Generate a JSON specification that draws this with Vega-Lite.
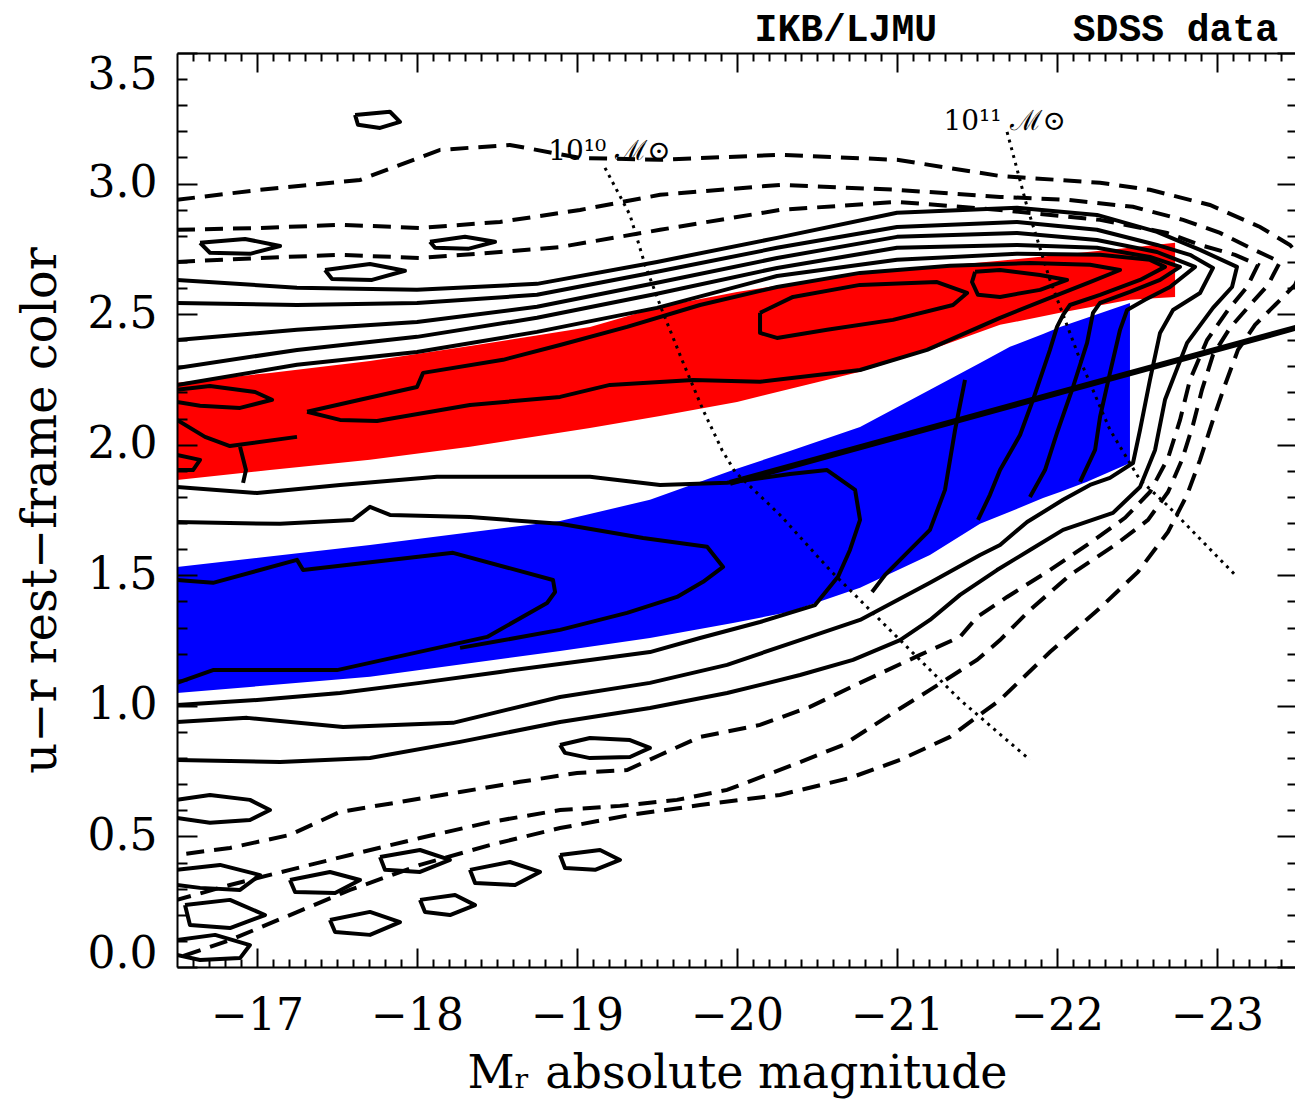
{
  "$schema": "https://vega.github.io/schema/vega-lite/v6.json",
  "width": 1120,
  "height": 914,
  "autosize": {"type": "none"},
  "padding": {"left": 177, "top": 53, "right": 0, "bottom": 134},
  "background": "white",
  "config": {"view": {"stroke": null}},
  "datasets": {
    "red": [
      {"M":-16.5,"c":2.237,"c2":1.865},{"M":-17.081,"c":2.275,"c2":1.903},{"M":-17.706,"c":2.321,"c2":1.942},{"M":-18.331,"c":2.378,"c2":1.992},{"M":-19.081,"c":2.451,"c2":2.064},{"M":-19.519,"c":2.528,"c2":2.110},{"M":-20.0,"c":2.585,"c2":2.164},{"M":-20.769,"c":2.658,"c2":2.279},{"M":-21.206,"c":2.681,"c2":2.363},{"M":-21.644,"c":2.704,"c2":2.459},{"M":-22.019,"c":2.727,"c2":2.505},{"M":-22.456,"c":2.754,"c2":2.555},{"M":-22.738,"c":2.773,"c2":2.566}
    ],
    "blue": [
      {"M":-16.5,"c":1.532,"c2":1.049},{"M":-17.706,"c":1.616,"c2":1.111},{"M":-18.894,"c":1.708,"c2":1.210},{"M":-19.456,"c":1.789,"c2":1.260},{"M":-19.975,"c":1.903,"c2":1.317},{"M":-20.331,"c":1.976,"c2":1.360},{"M":-20.769,"c":2.068,"c2":1.452},{"M":-21.206,"c":2.210,"c2":1.578},{"M":-21.519,"c":2.313,"c2":1.697},{"M":-21.706,"c":2.375,"c2":1.743},{"M":-21.913,"c":2.424,"c2":1.796},{"M":-22.019,"c":2.451,"c2":1.819},{"M":-22.188,"c":2.486,"c2":1.858},{"M":-22.456,"c":2.543,"c2":1.930}
    ],
    "sol": [
      {"id":"a","M":-16.5,"c":2.631},{"id":"a","M":-17.25,"c":2.601},{"id":"a","M":-18.0,"c":2.593},{"id":"a","M":-18.75,"c":2.616},{"id":"a","M":-19.5,"c":2.700},{"id":"a","M":-20.25,"c":2.792},{"id":"a","M":-21.0,"c":2.888},{"id":"a","M":-21.75,"c":2.907},{"id":"a","M":-22.25,"c":2.880},{"id":"a","M":-22.625,"c":2.815},{"id":"a","M":-22.894,"c":2.746},{"id":"a","M":-23.125,"c":2.681},{"id":"a","M":-23.094,"c":2.604},{"id":"a","M":-22.975,"c":2.524},{"id":"a","M":-22.813,"c":2.390},{"id":"a","M":-22.675,"c":2.172},{"id":"a","M":-22.613,"c":1.980},{"id":"a","M":-22.519,"c":1.838},{"id":"a","M":-22.35,"c":1.739},{"id":"a","M":-22.038,"c":1.674},{"id":"a","M":-21.831,"c":1.597},{"id":"a","M":-21.625,"c":1.520},{"id":"a","M":-21.394,"c":1.425},{"id":"a","M":-21.206,"c":1.329},{"id":"a","M":-21.019,"c":1.252},{"id":"a","M":-20.725,"c":1.176},{"id":"a","M":-20.394,"c":1.118},{"id":"a","M":-19.938,"c":1.049},{"id":"a","M":-19.456,"c":0.992},{"id":"a","M":-18.894,"c":0.938},{"id":"a","M":-18.269,"c":0.862},{"id":"a","M":-17.706,"c":0.800},{"id":"a","M":-17.144,"c":0.785},{"id":"a","M":-16.5,"c":0.793},
      {"id":"b","M":-16.5,"c":2.543},{"id":"b","M":-17.25,"c":2.535},{"id":"b","M":-18.0,"c":2.543},{"id":"b","M":-18.75,"c":2.574},{"id":"b","M":-19.5,"c":2.662},{"id":"b","M":-20.25,"c":2.754},{"id":"b","M":-21.0,"c":2.834},{"id":"b","M":-21.75,"c":2.853},{"id":"b","M":-22.25,"c":2.823},{"id":"b","M":-22.625,"c":2.765},{"id":"b","M":-22.831,"c":2.727},{"id":"b","M":-22.975,"c":2.677},{"id":"b","M":-22.894,"c":2.581},{"id":"b","M":-22.725,"c":2.516},{"id":"b","M":-22.644,"c":2.428},{"id":"b","M":-22.581,"c":2.248},{"id":"b","M":-22.519,"c":2.057},{"id":"b","M":-22.475,"c":1.930},{"id":"b","M":-22.331,"c":1.873},{"id":"b","M":-22.206,"c":1.846},{"id":"b","M":-22.038,"c":1.789},{"id":"b","M":-21.813,"c":1.704},{"id":"b","M":-21.644,"c":1.616},{"id":"b","M":-21.519,"c":1.578},{"id":"b","M":-21.206,"c":1.471},{"id":"b","M":-20.769,"c":1.329},{"id":"b","M":-20.394,"c":1.252},{"id":"b","M":-19.938,"c":1.157},{"id":"b","M":-19.456,"c":1.088},{"id":"b","M":-18.894,"c":1.034},{"id":"b","M":-18.225,"c":0.935},{"id":"b","M":-17.538,"c":0.919},{"id":"b","M":-16.938,"c":0.954},{"id":"b","M":-16.5,"c":0.938},
      {"id":"c","M":-16.5,"c":2.401},{"id":"c","M":-17.25,"c":2.440},{"id":"c","M":-18.0,"c":2.470},{"id":"c","M":-18.75,"c":2.528},{"id":"c","M":-19.5,"c":2.620},{"id":"c","M":-20.25,"c":2.715},{"id":"c","M":-21.0,"c":2.796},{"id":"c","M":-21.75,"c":2.811},{"id":"c","M":-22.25,"c":2.784},{"id":"c","M":-22.625,"c":2.738},{"id":"c","M":-22.863,"c":2.681},{"id":"c","M":-22.706,"c":2.604},{"id":"c","M":-22.55,"c":2.555},{"id":"c","M":-22.438,"c":2.516},{"id":"c","M":-22.394,"c":2.440},{"id":"c","M":-22.331,"c":2.275},{"id":"c","M":-22.269,"c":2.106},{"id":"c","M":-22.238,"c":1.980},{"id":"c","M":-22.144,"c":1.858},
      {"id":"d","M":-16.5,"c":2.294},{"id":"d","M":-17.25,"c":2.363},{"id":"d","M":-18.0,"c":2.413},{"id":"d","M":-18.75,"c":2.486},{"id":"d","M":-19.5,"c":2.578},{"id":"d","M":-20.25,"c":2.677},{"id":"d","M":-21.0,"c":2.754},{"id":"d","M":-21.75,"c":2.765},{"id":"d","M":-22.25,"c":2.754},{"id":"d","M":-22.581,"c":2.719},{"id":"d","M":-22.769,"c":2.681},{"id":"d","M":-22.644,"c":2.631},{"id":"d","M":-22.456,"c":2.585},{"id":"d","M":-22.269,"c":2.543},{"id":"d","M":-22.225,"c":2.505},{"id":"d","M":-22.188,"c":2.390},{"id":"d","M":-22.1,"c":2.221},{"id":"d","M":-22.0,"c":2.045},{"id":"d","M":-21.925,"c":1.903},{"id":"d","M":-21.831,"c":1.800},
      {"id":"e","M":-16.5,"c":2.229},{"id":"e","M":-17.25,"c":2.306},{"id":"e","M":-18.0,"c":2.355},{"id":"e","M":-18.75,"c":2.432},{"id":"e","M":-19.5,"c":2.524},{"id":"e","M":-20.25,"c":2.646},{"id":"e","M":-21.0,"c":2.708},{"id":"e","M":-21.75,"c":2.731},{"id":"e","M":-22.269,"c":2.727},{"id":"e","M":-22.581,"c":2.708},{"id":"e","M":-22.675,"c":2.681},{"id":"e","M":-22.519,"c":2.631},{"id":"e","M":-22.269,"c":2.574},{"id":"e","M":-22.081,"c":2.535},{"id":"e","M":-22.038,"c":2.497},{"id":"e","M":-22.0,"c":2.451},{"id":"e","M":-21.956,"c":2.363},{"id":"e","M":-21.85,"c":2.172},{"id":"e","M":-21.769,"c":2.037},{"id":"e","M":-21.644,"c":1.903},{"id":"e","M":-21.581,"c":1.808},{"id":"e","M":-21.506,"c":1.712},
      {"id":"f","M":-17.313,"c":2.126},{"id":"f","M":-17.644,"c":2.172},{"id":"f","M":-18.0,"c":2.221},{"id":"f","M":-18.038,"c":2.275},{"id":"f","M":-18.538,"c":2.325},{"id":"f","M":-18.894,"c":2.382},{"id":"f","M":-19.313,"c":2.451},{"id":"f","M":-19.769,"c":2.535},{"id":"f","M":-20.25,"c":2.604},{"id":"f","M":-20.769,"c":2.658},{"id":"f","M":-21.331,"c":2.685},{"id":"f","M":-21.831,"c":2.696},{"id":"f","M":-22.206,"c":2.689},{"id":"f","M":-22.394,"c":2.669},{"id":"f","M":-22.206,"c":2.623},{"id":"f","M":-21.956,"c":2.562},{"id":"f","M":-21.644,"c":2.486},{"id":"f","M":-21.188,"c":2.363},{"id":"f","M":-20.769,"c":2.286},{"id":"f","M":-20.144,"c":2.241},{"id":"f","M":-19.725,"c":2.248},{"id":"f","M":-19.206,"c":2.229},{"id":"f","M":-18.894,"c":2.183},{"id":"f","M":-18.331,"c":2.152},{"id":"f","M":-17.75,"c":2.091},{"id":"f","M":-17.519,"c":2.095},{"id":"f","M":-17.313,"c":2.126},
      {"id":"g","M":-21.488,"c":2.662},{"id":"g","M":-21.644,"c":2.669},{"id":"g","M":-21.894,"c":2.650},{"id":"g","M":-22.063,"c":2.631},{"id":"g","M":-21.894,"c":2.593},{"id":"g","M":-21.644,"c":2.566},{"id":"g","M":-21.506,"c":2.574},{"id":"g","M":-21.469,"c":2.623},{"id":"g","M":-21.488,"c":2.662},
      {"id":"h","M":-20.144,"c":2.505},{"id":"h","M":-20.35,"c":2.566},{"id":"h","M":-20.769,"c":2.612},{"id":"h","M":-21.25,"c":2.623},{"id":"h","M":-21.438,"c":2.581},{"id":"h","M":-21.35,"c":2.535},{"id":"h","M":-20.975,"c":2.478},{"id":"h","M":-20.563,"c":2.440},{"id":"h","M":-20.25,"c":2.409},{"id":"h","M":-20.144,"c":2.428},{"id":"h","M":-20.144,"c":2.505},
      {"id":"i","M":-16.5,"c":2.210},{"id":"i","M":-16.706,"c":2.225},{"id":"i","M":-16.988,"c":2.202},{"id":"i","M":-17.094,"c":2.172},{"id":"i","M":-16.894,"c":2.141},{"id":"i","M":-16.644,"c":2.149},{"id":"i","M":-16.5,"c":2.164},
      {"id":"j","M":-16.5,"c":2.095},{"id":"j","M":-16.675,"c":2.030},{"id":"j","M":-16.831,"c":1.995},{"id":"j","M":-17.25,"c":2.030},
      {"id":"k","M":-16.894,"c":1.992},{"id":"k","M":-16.931,"c":1.903},{"id":"k","M":-16.913,"c":1.854},
      {"id":"l","M":-16.5,"c":1.961},{"id":"l","M":-16.644,"c":1.942},{"id":"l","M":-16.6,"c":1.903},{"id":"l","M":-16.5,"c":1.903},
      {"id":"m","M":-16.5,"c":1.838},{"id":"m","M":-17.0,"c":1.815},{"id":"m","M":-17.519,"c":1.846},{"id":"m","M":-18.125,"c":1.877},{"id":"m","M":-19.081,"c":1.877},{"id":"m","M":-19.519,"c":1.846},{"id":"m","M":-19.938,"c":1.854},{"id":"m","M":-20.331,"c":1.888},{"id":"m","M":-20.563,"c":1.903},{"id":"m","M":-20.738,"c":1.827},{"id":"m","M":-20.769,"c":1.712},{"id":"m","M":-20.706,"c":1.597},{"id":"m","M":-20.631,"c":1.494},{"id":"m","M":-20.488,"c":1.386},{"id":"m","M":-20.144,"c":1.321},{"id":"m","M":-19.769,"c":1.260},{"id":"m","M":-19.456,"c":1.206},{"id":"m","M":-19.081,"c":1.176},{"id":"m","M":-18.519,"c":1.130},{"id":"m","M":-18.019,"c":1.088},{"id":"m","M":-17.519,"c":1.049},{"id":"m","M":-17.019,"c":1.023},{"id":"m","M":-16.5,"c":1.003},
      {"id":"n","M":-16.5,"c":1.704},{"id":"n","M":-17.144,"c":1.697},{"id":"n","M":-17.6,"c":1.712},{"id":"n","M":-17.706,"c":1.762},{"id":"n","M":-17.831,"c":1.731},{"id":"n","M":-18.331,"c":1.723},{"id":"n","M":-18.894,"c":1.697},{"id":"n","M":-19.413,"c":1.643},{"id":"n","M":-19.813,"c":1.609},{"id":"n","M":-19.913,"c":1.532},{"id":"n","M":-19.788,"c":1.475},{"id":"n","M":-19.625,"c":1.417},{"id":"n","M":-19.313,"c":1.356},{"id":"n","M":-18.894,"c":1.291},{"id":"n","M":-18.519,"c":1.249},{"id":"n","M":-18.269,"c":1.222},
      {"id":"o","M":-16.5,"c":1.482},{"id":"o","M":-16.725,"c":1.471},{"id":"o","M":-17.25,"c":1.559},{"id":"o","M":-17.288,"c":1.520},{"id":"o","M":-18.225,"c":1.586},{"id":"o","M":-18.85,"c":1.482},{"id":"o","M":-18.863,"c":1.436},{"id":"o","M":-18.813,"c":1.394},{"id":"o","M":-18.438,"c":1.264},{"id":"o","M":-17.5,"c":1.137},{"id":"o","M":-16.725,"c":1.137},{"id":"o","M":-16.5,"c":1.088},
      {"id":"p","M":-21.425,"c":2.248},{"id":"p","M":-21.363,"c":2.057},{"id":"p","M":-21.3,"c":1.827},{"id":"p","M":-21.206,"c":1.674},{"id":"p","M":-21.05,"c":1.578},{"id":"p","M":-20.925,"c":1.501},{"id":"p","M":-20.844,"c":1.436},
      {"id":"q","M":-18.894,"c":0.850},{"id":"q","M":-19.081,"c":0.877},{"id":"q","M":-19.331,"c":0.869},{"id":"q","M":-19.456,"c":0.839},{"id":"q","M":-19.331,"c":0.804},{"id":"q","M":-19.081,"c":0.800},{"id":"q","M":-18.925,"c":0.820},{"id":"q","M":-18.894,"c":0.850},
      {"id":"r","M":-16.5,"c":0.640},{"id":"r","M":-16.706,"c":0.659},{"id":"r","M":-16.956,"c":0.640},{"id":"r","M":-17.081,"c":0.601},{"id":"r","M":-16.956,"c":0.563},{"id":"r","M":-16.706,"c":0.552},{"id":"r","M":-16.5,"c":0.571},
      {"id":"n1","M":-16.5,"c":0.372},{"id":"n1","M":-16.769,"c":0.391},{"id":"n1","M":-17.019,"c":0.352},{"id":"n1","M":-16.894,"c":0.295},{"id":"n1","M":-16.644,"c":0.303},{"id":"n1","M":-16.5,"c":0.314},
      {"id":"n2","M":-16.55,"c":0.237},{"id":"n2","M":-16.831,"c":0.257},{"id":"n2","M":-17.05,"c":0.199},{"id":"n2","M":-16.831,"c":0.149},{"id":"n2","M":-16.581,"c":0.161},{"id":"n2","M":-16.55,"c":0.237},
      {"id":"n3","M":-16.5,"c":0.103},{"id":"n3","M":-16.738,"c":0.123},{"id":"n3","M":-16.956,"c":0.084},{"id":"n3","M":-16.894,"c":0.034},{"id":"n3","M":-16.644,"c":0.027},{"id":"n3","M":-16.5,"c":0.046},
      {"id":"n4","M":-17.206,"c":0.333},{"id":"n4","M":-17.456,"c":0.364},{"id":"n4","M":-17.644,"c":0.333},{"id":"n4","M":-17.488,"c":0.283},{"id":"n4","M":-17.238,"c":0.287},{"id":"n4","M":-17.206,"c":0.333},
      {"id":"n5","M":-17.769,"c":0.421},{"id":"n5","M":-18.019,"c":0.448},{"id":"n5","M":-18.206,"c":0.410},{"id":"n5","M":-18.019,"c":0.364},{"id":"n5","M":-17.8,"c":0.372},{"id":"n5","M":-17.769,"c":0.421},
      {"id":"n6","M":-18.331,"c":0.372},{"id":"n6","M":-18.581,"c":0.402},{"id":"n6","M":-18.769,"c":0.364},{"id":"n6","M":-18.613,"c":0.314},{"id":"n6","M":-18.363,"c":0.322},{"id":"n6","M":-18.331,"c":0.372},
      {"id":"n7","M":-17.456,"c":0.180},{"id":"n7","M":-17.706,"c":0.211},{"id":"n7","M":-17.894,"c":0.172},{"id":"n7","M":-17.706,"c":0.123},{"id":"n7","M":-17.488,"c":0.134},{"id":"n7","M":-17.456,"c":0.180},
      {"id":"n8","M":-18.894,"c":0.429},{"id":"n8","M":-19.144,"c":0.448},{"id":"n8","M":-19.269,"c":0.410},{"id":"n8","M":-19.113,"c":0.372},{"id":"n8","M":-18.925,"c":0.379},{"id":"n8","M":-18.894,"c":0.429},
      {"id":"n9","M":-18.019,"c":0.257},{"id":"n9","M":-18.238,"c":0.276},{"id":"n9","M":-18.363,"c":0.237},{"id":"n9","M":-18.206,"c":0.199},{"id":"n9","M":-18.05,"c":0.211},{"id":"n9","M":-18.019,"c":0.257},
      {"id":"u1","M":-16.644,"c":2.773},{"id":"u1","M":-16.925,"c":2.788},{"id":"u1","M":-17.144,"c":2.761},{"id":"u1","M":-16.956,"c":2.731},{"id":"u1","M":-16.706,"c":2.735},{"id":"u1","M":-16.644,"c":2.773},
      {"id":"u2","M":-17.425,"c":2.669},{"id":"u2","M":-17.706,"c":2.692},{"id":"u2","M":-17.925,"c":2.666},{"id":"u2","M":-17.719,"c":2.631},{"id":"u2","M":-17.469,"c":2.635},{"id":"u2","M":-17.425,"c":2.669},
      {"id":"u3","M":-18.081,"c":2.777},{"id":"u3","M":-18.3,"c":2.796},{"id":"u3","M":-18.488,"c":2.777},{"id":"u3","M":-18.319,"c":2.750},{"id":"u3","M":-18.113,"c":2.754},{"id":"u3","M":-18.081,"c":2.777},
      {"id":"u4","M":-17.613,"c":3.263},{"id":"u4","M":-17.831,"c":3.275},{"id":"u4","M":-17.894,"c":3.236},{"id":"u4","M":-17.769,"c":3.213},{"id":"u4","M":-17.631,"c":3.225},{"id":"u4","M":-17.613,"c":3.263}
    ],
    "dash": [
      {"id":"D1","M":-16.5,"c":2.938},{"id":"D1","M":-17.019,"c":2.976},{"id":"D1","M":-17.644,"c":3.014},{"id":"D1","M":-18.144,"c":3.129},{"id":"D1","M":-18.581,"c":3.148},{"id":"D1","M":-19.019,"c":3.098},{"id":"D1","M":-19.519,"c":3.091},{"id":"D1","M":-20.269,"c":3.110},{"id":"D1","M":-21.0,"c":3.091},{"id":"D1","M":-21.644,"c":3.029},{"id":"D1","M":-22.269,"c":3.003},{"id":"D1","M":-22.581,"c":2.976},{"id":"D1","M":-22.956,"c":2.918},{"id":"D1","M":-23.269,"c":2.834},{"id":"D1","M":-23.456,"c":2.765},{"id":"D1","M":-23.55,"c":2.700},{"id":"D1","M":-23.488,"c":2.612},{"id":"D1","M":-23.363,"c":2.535},{"id":"D1","M":-23.238,"c":2.459},{"id":"D1","M":-23.131,"c":2.363},{"id":"D1","M":-23.05,"c":2.229},{"id":"D1","M":-22.975,"c":2.095},{"id":"D1","M":-22.894,"c":1.942},{"id":"D1","M":-22.813,"c":1.808},{"id":"D1","M":-22.694,"c":1.666},{"id":"D1","M":-22.506,"c":1.513},{"id":"D1","M":-22.269,"c":1.375},{"id":"D1","M":-21.956,"c":1.206},{"id":"D1","M":-21.644,"c":1.023},{"id":"D1","M":-21.331,"c":0.881},{"id":"D1","M":-21.019,"c":0.793},{"id":"D1","M":-20.706,"c":0.724},{"id":"D1","M":-20.269,"c":0.659},{"id":"D1","M":-19.769,"c":0.620},{"id":"D1","M":-19.331,"c":0.582},{"id":"D1","M":-18.894,"c":0.532},{"id":"D1","M":-18.456,"c":0.467},{"id":"D1","M":-18.019,"c":0.391},{"id":"D1","M":-17.581,"c":0.295},{"id":"D1","M":-17.206,"c":0.199},{"id":"D1","M":-16.831,"c":0.103},{"id":"D1","M":-16.5,"c":0.034},
      {"id":"D2","M":-16.5,"c":2.823},{"id":"D2","M":-17.019,"c":2.830},{"id":"D2","M":-17.519,"c":2.842},{"id":"D2","M":-18.019,"c":2.830},{"id":"D2","M":-18.519,"c":2.853},{"id":"D2","M":-19.019,"c":2.899},{"id":"D2","M":-19.519,"c":2.957},{"id":"D2","M":-20.269,"c":2.995},{"id":"D2","M":-21.0,"c":2.976},{"id":"D2","M":-21.644,"c":2.949},{"id":"D2","M":-22.063,"c":2.938},{"id":"D2","M":-22.475,"c":2.911},{"id":"D2","M":-22.788,"c":2.861},{"id":"D2","M":-23.019,"c":2.811},{"id":"D2","M":-23.206,"c":2.754},{"id":"D2","M":-23.394,"c":2.700},{"id":"D2","M":-23.319,"c":2.612},{"id":"D2","M":-23.206,"c":2.535},{"id":"D2","M":-23.081,"c":2.447},{"id":"D2","M":-22.975,"c":2.344},{"id":"D2","M":-22.906,"c":2.210},{"id":"D2","M":-22.85,"c":2.076},{"id":"D2","M":-22.781,"c":1.942},{"id":"D2","M":-22.694,"c":1.819},{"id":"D2","M":-22.569,"c":1.712},{"id":"D2","M":-22.363,"c":1.616},{"id":"D2","M":-22.081,"c":1.501},{"id":"D2","M":-21.831,"c":1.367},{"id":"D2","M":-21.644,"c":1.252},{"id":"D2","M":-21.5,"c":1.176},{"id":"D2","M":-21.206,"c":1.061},{"id":"D2","M":-20.975,"c":0.973},{"id":"D2","M":-20.663,"c":0.850},{"id":"D2","M":-20.35,"c":0.774},{"id":"D2","M":-19.938,"c":0.678},{"id":"D2","M":-19.625,"c":0.640},{"id":"D2","M":-19.269,"c":0.617},{"id":"D2","M":-18.894,"c":0.601},{"id":"D2","M":-18.456,"c":0.555},{"id":"D2","M":-18.019,"c":0.494},{"id":"D2","M":-17.581,"c":0.429},{"id":"D2","M":-17.206,"c":0.372},{"id":"D2","M":-16.831,"c":0.314},{"id":"D2","M":-16.5,"c":0.257},
      {"id":"D3","M":-16.5,"c":2.700},{"id":"D3","M":-17.019,"c":2.715},{"id":"D3","M":-17.519,"c":2.727},{"id":"D3","M":-18.019,"c":2.715},{"id":"D3","M":-18.519,"c":2.738},{"id":"D3","M":-18.894,"c":2.757},{"id":"D3","M":-19.519,"c":2.823},{"id":"D3","M":-20.269,"c":2.899},{"id":"D3","M":-21.0,"c":2.930},{"id":"D3","M":-21.644,"c":2.899},{"id":"D3","M":-22.269,"c":2.861},{"id":"D3","M":-22.688,"c":2.811},{"id":"D3","M":-22.894,"c":2.765},{"id":"D3","M":-23.113,"c":2.727},{"id":"D3","M":-23.256,"c":2.689},{"id":"D3","M":-23.188,"c":2.604},{"id":"D3","M":-23.069,"c":2.516},{"id":"D3","M":-22.938,"c":2.401},{"id":"D3","M":-22.831,"c":2.248},{"id":"D3","M":-22.769,"c":2.095},{"id":"D3","M":-22.694,"c":1.949},{"id":"D3","M":-22.581,"c":1.819},{"id":"D3","M":-22.425,"c":1.720},{"id":"D3","M":-22.206,"c":1.624},{"id":"D3","M":-21.956,"c":1.520},{"id":"D3","M":-21.688,"c":1.417},{"id":"D3","M":-21.5,"c":1.340},{"id":"D3","M":-21.394,"c":1.264},{"id":"D3","M":-21.144,"c":1.195},{"id":"D3","M":-20.769,"c":1.088},{"id":"D3","M":-20.456,"c":0.996},{"id":"D3","M":-20.144,"c":0.927},{"id":"D3","M":-19.769,"c":0.881},{"id":"D3","M":-19.519,"c":0.812},{"id":"D3","M":-19.313,"c":0.754},{"id":"D3","M":-19.0,"c":0.743},{"id":"D3","M":-18.644,"c":0.709},{"id":"D3","M":-18.269,"c":0.670},{"id":"D3","M":-17.894,"c":0.632},{"id":"D3","M":-17.519,"c":0.594},{"id":"D3","M":-17.206,"c":0.506},{"id":"D3","M":-16.831,"c":0.456},{"id":"D3","M":-16.5,"c":0.429}
    ],
    "mass": [
      {"id":"m10","M":-19.175,"c":3.060},{"id":"m10","M":-19.331,"c":2.880},{"id":"m10","M":-19.425,"c":2.689},{"id":"m10","M":-19.531,"c":2.516},{"id":"m10","M":-19.656,"c":2.325},{"id":"m10","M":-19.788,"c":2.133},{"id":"m10","M":-19.906,"c":1.980},{"id":"m10","M":-19.988,"c":1.896},{"id":"m10","M":-20.269,"c":1.731},{"id":"m10","M":-20.581,"c":1.520},{"id":"m10","M":-21.019,"c":1.252},{"id":"m10","M":-21.394,"c":1.023},{"id":"m10","M":-21.831,"c":0.793},
      {"id":"m11","M":-21.688,"c":3.198},{"id":"m11","M":-21.813,"c":2.911},{"id":"m11","M":-21.956,"c":2.631},{"id":"m11","M":-22.144,"c":2.325},{"id":"m11","M":-22.331,"c":2.057},{"id":"m11","M":-22.519,"c":1.865},{"id":"m11","M":-22.688,"c":1.769},{"id":"m11","M":-23.125,"c":1.494}
    ],
    "thick": [{"M":-19.956,"c":1.854},{"M":-23.5,"c":2.449}],
    "labels": [{"M":-18.82,"c":3.121,"t":"10¹⁰ ℳ⊙"},{"M":-21.29,"c":3.236,"t":"10¹¹ ℳ⊙"}],
    "top": [{"M":-20.68,"c":3.589,"t":"IKB/LJMU"},{"M":-22.74,"c":3.589,"t":"SDSS data"}]
  },
  "encoding": {
    "x": {"field": "M", "type": "quantitative", "scale": {"domain": [-16.5, -23.5], "nice": false, "zero": false}, "axis": null},
    "y": {"field": "c", "type": "quantitative", "scale": {"domain": [0, 3.5], "nice": false, "zero": false}, "axis": null}
  },
  "layer": [
    {
      "data": {"name": "red"},
      "mark": {"type": "area", "color": "#ff0000", "opacity": 1},
      "encoding": {
        "x": {"field": "M", "type": "quantitative", "scale": {"domain": [-16.5, -23.5], "nice": false, "zero": false},
          "axis": {"orient": "bottom", "zindex": 1,
            "values": [-16.6,-16.7,-16.8,-16.9,-17,-17.1,-17.2,-17.3,-17.4,-17.5,-17.6,-17.7,-17.8,-17.9,-18,-18.1,-18.2,-18.3,-18.4,-18.5,-18.6,-18.7,-18.8,-18.9,-19,-19.1,-19.2,-19.3,-19.4,-19.5,-19.6,-19.7,-19.8,-19.9,-20,-20.1,-20.2,-20.3,-20.4,-20.5,-20.6,-20.7,-20.8,-20.9,-21,-21.1,-21.2,-21.3,-21.4,-21.5,-21.6,-21.7,-21.8,-21.9,-22,-22.1,-22.2,-22.3,-22.4,-22.5,-22.6,-22.7,-22.8,-22.9,-23,-23.1,-23.2,-23.3,-23.4],
            "tickSize": {"condition": {"test": "abs(datum.value - round(datum.value)) < 0.01", "value": -19}, "value": -8},
            "tickWidth": 2, "tickColor": "black",
            "domain": true, "domainColor": "black", "domainWidth": 2, "grid": false,
            "labelExpr": "abs(datum.value - round(datum.value)) < 0.01 ? format(datum.value, 'd') : ''",
            "labelFont": "DejaVu Serif", "labelFontSize": 44, "labelColor": "black", "labelPadding": 46,
            "labelOverlap": false, "labelFlush": false, "labelBound": false,
            "title": "Mᵣ absolute magnitude", "titleFont": "DejaVu Serif", "titleFontSize": 46, "titleFontWeight": "normal", "titleColor": "black", "titlePadding": 2}},
        "y": {"field": "c", "type": "quantitative", "scale": {"domain": [0, 3.5], "nice": false, "zero": false},
          "axis": {"orient": "left", "zindex": 1,
            "values": [0,0.1,0.2,0.3,0.4,0.5,0.6,0.7,0.8,0.9,1,1.1,1.2,1.3,1.4,1.5,1.6,1.7,1.8,1.9,2,2.1,2.2,2.3,2.4,2.5,2.6,2.7,2.8,2.9,3,3.1,3.2,3.3,3.4,3.5],
            "tickSize": {"condition": {"test": "abs(datum.value * 2 - round(datum.value * 2)) < 0.01", "value": -20}, "value": -10},
            "tickWidth": 2, "tickColor": "black",
            "domain": true, "domainColor": "black", "domainWidth": 2, "grid": false,
            "labelExpr": "abs(datum.value * 2 - round(datum.value * 2)) < 0.01 ? format(datum.value, '.1f') : ''",
            "labelFont": "DejaVu Serif", "labelFontSize": 44, "labelColor": "black", "labelPadding": 40,
            "labelBaseline": {"condition": [{"test": "datum.value > 3.49", "value": "top"}, {"test": "datum.value < 0.01", "value": "alphabetic"}], "value": "middle"},
            "labelOverlap": false, "labelFlush": false, "labelBound": false,
            "title": "u−r rest−frame color", "titleFont": "DejaVu Serif", "titleFontSize": 48, "titleFontWeight": "normal", "titleColor": "black", "titlePadding": 22}},
        "y2": {"field": "c2"}
      }
    },
    {
      "data": {"name": "blue"},
      "mark": {"type": "area", "color": "#0000ff", "opacity": 1},
      "encoding": {
        "x": {"field": "M", "type": "quantitative", "scale": {"domain": [-16.5, -23.5], "nice": false, "zero": false},
          "axis": {"orient": "top", "zindex": 1, "labels": false, "title": null,
            "values": [-16.6,-16.7,-16.8,-16.9,-17,-17.1,-17.2,-17.3,-17.4,-17.5,-17.6,-17.7,-17.8,-17.9,-18,-18.1,-18.2,-18.3,-18.4,-18.5,-18.6,-18.7,-18.8,-18.9,-19,-19.1,-19.2,-19.3,-19.4,-19.5,-19.6,-19.7,-19.8,-19.9,-20,-20.1,-20.2,-20.3,-20.4,-20.5,-20.6,-20.7,-20.8,-20.9,-21,-21.1,-21.2,-21.3,-21.4,-21.5,-21.6,-21.7,-21.8,-21.9,-22,-22.1,-22.2,-22.3,-22.4,-22.5,-22.6,-22.7,-22.8,-22.9,-23,-23.1,-23.2,-23.3,-23.4],
            "tickSize": {"condition": {"test": "abs(datum.value - round(datum.value)) < 0.01", "value": -19}, "value": -8},
            "tickWidth": 2, "tickColor": "black",
            "domain": true, "domainColor": "black", "domainWidth": 2, "grid": false}},
        "y": {"field": "c", "type": "quantitative", "scale": {"domain": [0, 3.5], "nice": false, "zero": false},
          "axis": {"orient": "right", "zindex": 1, "labels": false, "title": null,
            "values": [0,0.1,0.2,0.3,0.4,0.5,0.6,0.7,0.8,0.9,1,1.1,1.2,1.3,1.4,1.5,1.6,1.7,1.8,1.9,2,2.1,2.2,2.3,2.4,2.5,2.6,2.7,2.8,2.9,3,3.1,3.2,3.3,3.4,3.5],
            "tickSize": {"condition": {"test": "abs(datum.value * 2 - round(datum.value * 2)) < 0.01", "value": -20}, "value": -10},
            "tickWidth": 2, "tickColor": "black",
            "domain": true, "domainColor": "black", "domainWidth": 2, "grid": false}},
        "y2": {"field": "c2"}
      }
    },
    {
      "data": {"name": "sol"},
      "mark": {"type": "line", "color": "black", "strokeWidth": 4, "strokeJoin": "round", "clip": true},
      "encoding": {"detail": {"field": "id"}, "order": {"value": null}}
    },
    {
      "data": {"name": "dash"},
      "mark": {"type": "line", "color": "black", "strokeWidth": 4, "strokeDash": [18, 10], "clip": true},
      "encoding": {"detail": {"field": "id"}, "order": {"value": null}}
    },
    {
      "data": {"name": "mass"},
      "mark": {"type": "line", "color": "black", "strokeWidth": 3, "strokeDash": [3, 5], "clip": true},
      "encoding": {"detail": {"field": "id"}, "order": {"value": null}}
    },
    {
      "data": {"name": "thick"},
      "mark": {"type": "line", "color": "black", "strokeWidth": 6, "clip": true},
      "encoding": {"order": {"value": null}}
    },
    {
      "data": {"name": "labels"},
      "mark": {"type": "text", "align": "left", "baseline": "middle", "font": "DejaVu Serif", "fontSize": 28, "color": "black"},
      "encoding": {"text": {"field": "t"}}
    },
    {
      "data": {"name": "top"},
      "mark": {"type": "text", "align": "center", "baseline": "middle", "font": "Liberation Mono", "fontSize": 38, "fontWeight": "bold", "color": "black"},
      "encoding": {"text": {"field": "t"}}
    }
  ],
  "resolve": {"axis": {"x": "independent", "y": "independent"}}
}
